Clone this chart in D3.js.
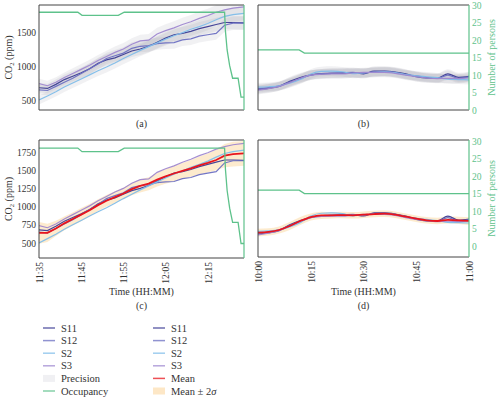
<!DOCTYPE html>
<html><head><meta charset="utf-8">
<script src="https://cdn.jsdelivr.net/npm/d3@7"></script>
<style>
body{margin:0;background:#fff}
svg{display:block;font-family:"Liberation Serif","DejaVu Serif",serif}
</style>
</head><body>
<svg id="chart" width="500" height="398"></svg>
<script>
// ---------- DATA ----------
// Left experiment (a, c): minutes after 11:35
const leftStart = "11:35";
const leftMinutes = [0,2,4,6,8,10,12,14,16,18,20,22,24,26,28,30,32,34,36,38,40,42,44,46,48.6];
const leftS11 = [680,670,730,800,850,900,960,1040,1090,1120,1170,1220,1250,1290,1350,1410,1460,1480,1510,1550,1580,1610,1640,1640,1635];
const leftS12 = [650,640,700,760,820,890,960,1030,1110,1150,1190,1260,1290,1300,1330,1340,1345,1385,1400,1440,1460,1480,1600,1630,1630];
const leftS2  = [500,560,620,690,750,810,870,930,985,1045,1110,1170,1230,1285,1340,1395,1445,1490,1540,1580,1625,1680,1730,1755,1775];
const leftS3  = [740,710,760,830,890,950,1010,1080,1140,1200,1250,1320,1370,1380,1470,1520,1560,1610,1650,1700,1740,1790,1825,1850,1870];
const leftMean = [640,640,700,770,830,890,950,1020,1080,1130,1180,1240,1285,1315,1370,1415,1455,1490,1525,1565,1600,1640,1700,1720,1730];
const leftTwoSigma = [150,125,105,95,90,90,85,80,80,80,80,85,90,90,95,100,105,110,115,125,130,140,160,170,170];
const leftOccMinutes = [0,9.2,10.2,18.8,20.2,44,44.2,44.6,45.2,45.9,47.2,47.9,48.6];
const leftOccValues  = [28,28,27,27,28,28,22,16,11,7,7,1,1];
const leftTickLabels = ["11:35","11:45","11:55","12:05","12:15"];
const leftEnd = 48.6;

// Right experiment (b, d): minutes after 10:00
const rightStart = "10:00";
const rightMinutes = [0,3,6,9,12,15,18,21,24,27,30,33,36,39,42,45,48,51,54,57,60];
const rightS11 = [612,630,660,740,800,845,862,870,870,880,862,905,905,890,860,815,795,795,860,805,820];
const rightS12 = [625,640,670,730,785,840,865,875,880,885,870,895,900,885,850,830,800,790,840,790,812];
const rightS2  = [650,655,670,710,770,860,900,905,895,865,880,885,895,880,850,830,815,800,775,770,765];
const rightS3  = [600,625,660,720,790,840,855,860,860,875,884,884,885,870,840,815,795,785,790,785,795];
const rightMean = [632,641,668,723,793,848,871,871,875,871,880,889,894,880,853,825,802,793,807,802,793];
const rightTwoSigma = [55,50,50,55,55,50,50,45,45,45,45,45,45,45,45,45,45,45,50,50,55];
const rightOccMinutes = [0,11.7,13.2,60];
const rightOccValues  = [16,16,15,15];
const rightTickLabels = ["10:00","10:15","10:30","10:45","11:00"];
const rightEnd = 60;

const co2TicksTop = [500,1000,1500];
const co2TicksBottom = [500,750,1000,1250,1500,1750];
const personTicks = [0,5,10,15,20,25,30];

// sensor precision spec (half width of grey band): abs ppm + relative
const precisionAbs = 50, precisionRel = 0.03;

// ---------- STYLE ----------
const colors = {S11:"#3c3c94", S12:"#6b6fc2", S2:"#80bde9", S3:"#9f88d0", Mean:"#e8151d", Occ:"#5ec28b"};
const sensorNames = ["S11","S12","S2","S3"];

const svg = d3.select("#chart");
const parse = d3.timeParse("%H:%M");
const toDate = (start, m) => new Date(parse(start).getTime() + m*60000);

function sensorsFor(side){
  return side==="left"
    ? {S11:leftS11,S12:leftS12,S2:leftS2,S3:leftS3}
    : {S11:rightS11,S12:rightS12,S2:rightS2,S3:rightS3};
}

let clipId = 0;
function panel(cfg){
  const side = cfg.side;
  const start = side==="left"?leftStart:rightStart;
  const mins = side==="left"?leftMinutes:rightMinutes;
  const end = side==="left"?leftEnd:rightEnd;
  const occM = side==="left"?leftOccMinutes:rightOccMinutes;
  const occV = side==="left"?leftOccValues:rightOccValues;
  const mean = side==="left"?leftMean:rightMean;
  const sig = side==="left"?leftTwoSigma:rightTwoSigma;
  const sensors = sensorsFor(side);
  const curve = side==="left"?d3.curveLinear:d3.curveMonotoneX;

  const x = d3.scaleTime().domain([toDate(start,0),toDate(start,end)]).range([cfg.x0,cfg.x1]);
  const y = d3.scaleLinear().domain(cfg.co2Domain).range([cfg.y1,cfg.y0]);
  const yo = d3.scaleLinear().domain([-3.1,30.3]).range([cfg.y1,cfg.y0]);

  const id = "clip"+(clipId++);
  svg.append("clipPath").attr("id",id).append("rect")
    .attr("x",cfg.x0).attr("y",cfg.y0).attr("width",cfg.x1-cfg.x0).attr("height",cfg.y1-cfg.y0);
  const g = svg.append("g").attr("clip-path",`url(#${id})`);

  const times = mins.map(m=>toDate(start,m));

  if(cfg.mode==="precision"){
    sensorNames.forEach(n=>{
      const vals = sensors[n];
      const area = d3.area().curve(curve)
        .x((d,i)=>x(times[i]))
        .y0((d)=>y(d - (precisionAbs + precisionRel*d)))
        .y1((d)=>y(d + (precisionAbs + precisionRel*d)));
      g.append("path").datum(vals).attr("d",area).attr("fill","#8e8e9c").attr("fill-opacity",0.12);
    });
  } else {
    const area = d3.area().curve(curve)
      .x((d,i)=>x(times[i]))
      .y0((d,i)=>y(d - sig[i]))
      .y1((d,i)=>y(d + sig[i]));
    g.append("path").datum(mean).attr("d",area).attr("fill","#fcd79d").attr("fill-opacity",0.5);
  }

  sensorNames.forEach(n=>{
    const line = d3.line().curve(curve).x((d,i)=>x(times[i])).y(d=>y(d));
    g.append("path").datum(sensors[n]).attr("d",line).attr("fill","none")
      .attr("stroke",colors[n]).attr("stroke-width",1.2).attr("stroke-opacity",0.95);
  });
  if(cfg.mode==="mean"){
    const line = d3.line().curve(curve).x((d,i)=>x(times[i])).y(d=>y(d));
    g.append("path").datum(mean).attr("d",line).attr("fill","none")
      .attr("stroke",colors.Mean).attr("stroke-width",1.8);
  }
  // occupancy
  const occLine = d3.line().x((d,i)=>x(toDate(start,occM[i]))).y(d=>yo(d));
  g.append("path").datum(occV).attr("d",occLine).attr("fill","none")
    .attr("stroke",colors.Occ).attr("stroke-width",1.3);

  // spines
  const sp = svg.append("g");
  sp.append("line").attr("x1",cfg.x0).attr("x2",cfg.x1).attr("y1",cfg.y0).attr("y2",cfg.y0).attr("stroke","#444").attr("stroke-width",1);
  sp.append("line").attr("x1",cfg.x0).attr("x2",cfg.x1).attr("y1",cfg.y1).attr("y2",cfg.y1).attr("stroke","#444").attr("stroke-width",1);
  sp.append("line").attr("x1",cfg.x0).attr("x2",cfg.x0).attr("y1",cfg.y0).attr("y2",cfg.y1).attr("stroke","#444").attr("stroke-width",1);
  sp.append("line").attr("x1",cfg.x1).attr("x2",cfg.x1).attr("y1",cfg.y0).attr("y2",cfg.y1).attr("stroke",colors.Occ).attr("stroke-width",1.2);

  // left axis
  if(cfg.co2Ticks){
    const ax = svg.append("g").attr("transform",`translate(${cfg.x0},0)`)
      .call(d3.axisLeft(y).tickValues(cfg.co2Ticks).tickSize(0).tickPadding(3).tickFormat(d3.format("d")));
    ax.select(".domain").remove();
    ax.selectAll("text").attr("font-size",9.5).attr("fill","#333").attr("font-family","Liberation Serif, serif");
    const cy = (cfg.y0+cfg.y1)/2;
    const t = svg.append("text").attr("transform",`translate(12,${cy}) rotate(-90)`)
      .attr("text-anchor","middle").attr("font-size",10).attr("fill","#333");
    t.append("tspan").text("CO");
    t.append("tspan").attr("font-size",6.5).attr("dy",2).text("2");
    t.append("tspan").attr("dy",-2).text(" (ppm)");
  }
  // right axis
  if(cfg.personDomain){
    const yp = d3.scaleLinear().domain(cfg.personDomain).range([cfg.y1,cfg.y0]);
    const ax = svg.append("g").attr("transform",`translate(${cfg.x1},0)`)
      .call(d3.axisRight(yp).tickValues(personTicks).tickSize(0).tickPadding(3));
    ax.select(".domain").remove();
    ax.selectAll("text").attr("font-size",9.5).attr("fill",colors.Occ).attr("font-family","Liberation Serif, serif");
    const cy = (cfg.y0+cfg.y1)/2;
    svg.append("text").attr("transform",`translate(495,${cy}) rotate(-90)`)
      .attr("text-anchor","middle").attr("font-size",10).attr("fill",colors.Occ).text("Number of persons");
  }
  // bottom axis
  if(cfg.timeTicks){
    const tl = side==="left"?leftTickLabels:rightTickLabels;
    const ax = svg.append("g").attr("transform",`translate(0,${cfg.y1})`)
      .call(d3.axisBottom(x).tickValues(tl.map(s=>parse(s))).tickSize(0).tickFormat(d3.timeFormat("%H:%M")));
    ax.select(".domain").remove();
    ax.selectAll("text").attr("font-size",9.5).attr("fill","#333").attr("font-family","Liberation Serif, serif")
      .attr("text-anchor","end").attr("transform","rotate(-90)").attr("x",-4).attr("y",0).attr("dy","0.35em");
    svg.append("text").attr("x",(cfg.x0+cfg.x1)/2).attr("y",295).attr("text-anchor","middle")
      .attr("font-size",10).attr("fill","#333").text("Time (HH:MM)");
  }
  svg.append("text").attr("x",(cfg.x0+cfg.x1)/2).attr("y",cfg.labelY).attr("text-anchor","middle")
    .attr("font-size",10).attr("fill","#333").text(cfg.label);
}

panel({side:"left", mode:"precision", x0:39, x1:244, y0:5, y1:110, co2Domain:[353,1897], co2Ticks:co2TicksTop, label:"(a)", labelY:127});
panel({side:"right", mode:"precision", x0:258, x1:469, y0:5, y1:110, co2Domain:[282,1965], personDomain:[0,30], label:"(b)", labelY:127});
panel({side:"left", mode:"mean", x0:39, x1:244, y0:140, y1:258, co2Domain:[294,1915], co2Ticks:co2TicksBottom, timeTicks:true, label:"(c)", labelY:309});
panel({side:"right", mode:"mean", x0:258, x1:469, y0:140, y1:257, co2Domain:[294,1915], personDomain:[-3.1,30.3], timeTicks:true, label:"(d)", labelY:309});

// ---------- LEGEND ----------
const legendCol1 = [
  {name:"S11", type:"line", color:colors.S11},
  {name:"S12", type:"line", color:colors.S12},
  {name:"S2", type:"line", color:colors.S2},
  {name:"S3", type:"line", color:colors.S3},
  {name:"Precision", type:"rect", color:"#f0f0f3"},
  {name:"Occupancy", type:"line", color:colors.Occ}
];
const legendCol2 = [
  {name:"S11", type:"line", color:colors.S11},
  {name:"S12", type:"line", color:colors.S12},
  {name:"S2", type:"line", color:colors.S2},
  {name:"S3", type:"line", color:colors.S3},
  {name:"Mean", type:"line", color:colors.Mean},
  {name:"Mean ± 2σ", type:"rect", color:"#fde7c6"}
];
function legend(items, x0){
  items.forEach((it,i)=>{
    const yy = 328 + i*12.6;
    if(it.type==="line"){
      svg.append("line").attr("x1",x0).attr("x2",x0+12).attr("y1",yy).attr("y2",yy)
        .attr("stroke",it.color).attr("stroke-width",1.5).attr("stroke-opacity",0.75);
    } else {
      svg.append("rect").attr("x",x0).attr("y",yy-3.5).attr("width",12).attr("height",7).attr("fill",it.color);
    }
    const t = svg.append("text").attr("x",x0+18).attr("y",yy).attr("dy","0.35em")
      .attr("font-size",10.5).attr("fill","#333");
    if(it.name==="Mean ± 2σ"){
      t.append("tspan").text("Mean ± 2");
      t.append("tspan").attr("font-style","italic").text("σ");
    } else t.text(it.name);
  });
}
legend(legendCol1, 43);
legend(legendCol2, 153);
</script>
</body></html>
